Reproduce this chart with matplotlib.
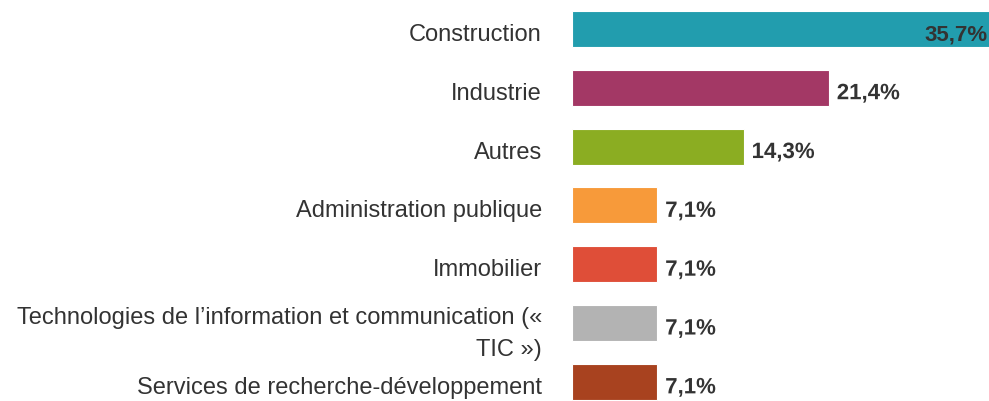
import matplotlib
matplotlib.use("Agg")
import matplotlib.pyplot as plt
import matplotlib.transforms as mtransforms
import matplotlib.patheffects as pe

# ---------------------------- Data -----------------------------------
categories = [
    "Construction",
    "Industrie",
    "Autres",
    "Administration publique",
    "Immobilier",
    "Technologies de l\u2019information et communication (\u00ab\nTIC \u00bb)",
    "Services de recherche-d\u00e9veloppement",
]
values = [35.7, 21.4, 14.3, 7.1, 7.1, 7.1, 7.1]
value_labels = ["35,7%", "21,4%", "14,3%", "7,1%", "7,1%", "7,1%", "7,1%"]
colors = ["#229DAE", "#A33865", "#8BAD22", "#F79A3A", "#DF4E38", "#B3B3B3", "#A8421F"]

# ---------------------------- Figure ---------------------------------
plt.rcParams["font.family"] = ["Liberation Sans", "DejaVu Sans"]
W, H, DPI = 989, 401, 100
fig = plt.figure(figsize=(W / DPI, H / DPI), dpi=DPI)

x0_px = 572
px_per_unit = 12.0
row_px = 58.83
first_center_px = 29
ax = fig.add_axes([x0_px / W, 0, (W - x0_px) / W, 1])
ax.set_xlim(0, (W - x0_px) / px_per_unit)
ax.set_ylim((H - first_center_px) / row_px, -first_center_px / row_px)
ax.axis("off")

ypos = list(range(len(categories)))
ax.barh(ypos, values, height=36 / row_px, color=colors,
        edgecolor="white", linewidth=0.8)

text_color = "#333333"
label_tr = mtransforms.blended_transform_factory(fig.transFigure, ax.transData)
for y, cat in zip(ypos, categories):
    dy = 0.19 if "\n" in cat else 0.1
    ax.text(542 / W, y + dy, cat, transform=label_tr, ha="right", va="center",
            fontsize=17, color=text_color, linespacing=1.6, clip_on=False)

outline = [pe.withStroke(linewidth=2, foreground="white")]
for y, v, lab in zip(ypos, values, value_labels):
    if v > ax.get_xlim()[1]:
        ax.text(988 / W, y + 0.1, lab, transform=label_tr, ha="right", va="center",
                fontsize=16, fontweight="bold", color=text_color, clip_on=False)
    else:
        ax.text(v + 8 / px_per_unit, y + 0.1, lab, ha="left", va="center",
                fontsize=16, fontweight="bold", color=text_color,
                path_effects=outline, clip_on=False)

fig.savefig("out.png", dpi=DPI)
